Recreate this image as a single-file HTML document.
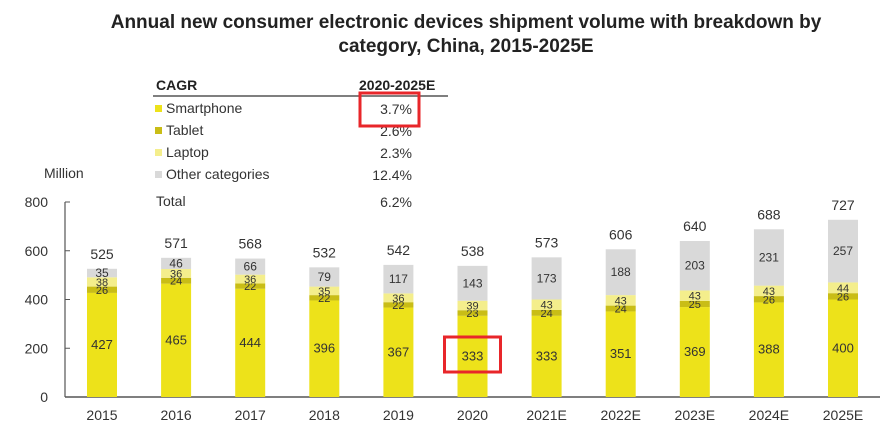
<!DOCTYPE html>
<html><head><meta charset="utf-8"><style>
body{margin:0;background:#fff;font-family:"Liberation Sans",Arial,sans-serif;}
svg text{font-family:"Liberation Sans",Arial,sans-serif;}
</style></head><body>
<svg width="889" height="431" viewBox="0 0 889 431">
<text x="466" y="28" text-anchor="middle" font-size="19" font-weight="bold" fill="#222">Annual new consumer electronic devices shipment volume with breakdown by</text>
<text x="466" y="52" text-anchor="middle" font-size="19" font-weight="bold" fill="#222">category, China, 2015-2025E</text>
<g font-size="14" fill="#333">
<text x="156" y="90" font-weight="bold" fill="#222">CAGR</text>
<text x="359" y="90" font-weight="bold" fill="#222">2020-2025E</text>
<line x1="153" y1="96" x2="448" y2="96" stroke="#555" stroke-width="1.5"/>
<rect x="155" y="105" width="7" height="7" fill="#ede21a"/><text x="166" y="113">Smartphone</text><text x="412" y="114" text-anchor="end">3.7%</text>
<rect x="155" y="127" width="7" height="7" fill="#c9bd16"/><text x="166" y="135">Tablet</text><text x="412" y="136" text-anchor="end">2.6%</text>
<rect x="155" y="149" width="7" height="7" fill="#f4ee8c"/><text x="166" y="157">Laptop</text><text x="412" y="158" text-anchor="end">2.3%</text>
<rect x="155" y="171" width="7" height="7" fill="#d9d9d9"/><text x="166" y="179">Other categories</text><text x="412" y="180" text-anchor="end">12.4%</text>
<text x="156" y="206">Total</text><text x="412" y="207" text-anchor="end">6.2%</text>
<rect x="360" y="93" width="59" height="33" fill="none" stroke="#e8262a" stroke-width="3"/>
</g>
<text x="44" y="178" font-size="14" fill="#333">Million</text>
<g id="axes"></g>
<g id="bars"></g>
</svg>
<script>
const categories=["2015","2016","2017","2018","2019","2020","2021E","2022E","2023E","2024E","2025E"];
const smartphone=[427,465,444,396,367,333,333,351,369,388,400];
const tablet=[26,24,22,22,22,23,24,24,25,26,26];
const laptop=[38,36,36,35,36,39,43,43,43,43,44];
const other=[35,46,66,79,117,143,173,188,203,231,257];
const totals=[525,571,568,532,542,538,573,606,640,688,727];
const yTicks=[0,200,400,600,800];
const NS="http://www.w3.org/2000/svg";
const y=v=>397-v*0.24375;
const xc=i=>102+i*74.1;
const bw=30;
function mk(tag,attrs,parent,txt){const e=document.createElementNS(NS,tag);for(const k in attrs)e.setAttribute(k,attrs[k]);if(txt!==undefined)e.textContent=txt;parent.appendChild(e);return e;}
const ax=document.getElementById('axes'),bg=document.getElementById('bars');
let l=mk('line',{x1:65,y1:y(800),x2:65,y2:397,stroke:'#555','stroke-width':1.2},ax);


l=mk('line',{x1:65,y1:397,x2:880,y2:397,stroke:'#555','stroke-width':1.5},ax);


yTicks.forEach(t=>{mk('line',{x1:65,y1:y(t),x2:70,y2:y(t),stroke:'#555'},ax);
const tx=mk('text',{x:48,y:y(t)+5,'text-anchor':'end','font-size':14,fill:'#333'},ax,t);

});
const series=[[smartphone,'#ede21a','smartphone',13],[tablet,'#c9bd16','tablet',11],[laptop,'#f4ee8c','laptop',11],[other,'#d9d9d9','other',12]];
categories.forEach((c,i)=>{let base=0;
series.forEach(([arr,col,nm,fs])=>{const v=arr[i];
const r=mk('rect',{x:xc(i)-bw/2,y:y(base+v),width:bw,height:y(base)-y(base+v),fill:col},bg);


const t=mk('text',{x:xc(i),y:(y(base)+y(base+v))/2+4,'text-anchor':'middle','font-size':fs,fill:'#333'},bg,v);


base+=v;});
const tt=mk('text',{x:xc(i),y:y(base)-10,'text-anchor':'middle','font-size':14,fill:'#333'},bg,totals[i]);


const xl=mk('text',{x:xc(i),y:420,'text-anchor':'middle','font-size':14,fill:'#333'},bg,c);

});
const hb=mk('rect',{x:xc(5)-28,y:337,width:56,height:35,fill:'none',stroke:'#e8262a','stroke-width':3},bg);


</script>
</body></html>
